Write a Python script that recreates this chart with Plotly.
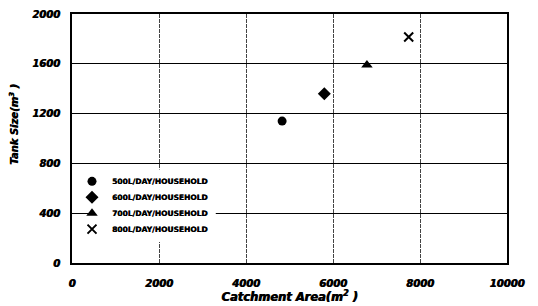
import plotly.graph_objects as go

series_names = ["500L/DAY/HOUSEHOLD", "600L/DAY/HOUSEHOLD", "700L/DAY/HOUSEHOLD", "800L/DAY/HOUSEHOLD"]
catchment_area = [4830, 5800, 6780, 7740]
tank_size = [1140, 1360, 1590, 1815]
symbols = ["circle", "diamond", "triangle-up", "x-thin"]
sizes = [9, 10, 10, 9]

x_ticks = [0, 2000, 4000, 6000, 8000, 10000]
y_ticks = [0, 400, 800, 1200, 1600, 2000]

FONT = "DejaVu Sans"
SHADOW = "0.7px 0px 0px black"

legend_ids = ["legend", "legend2", "legend3", "legend4"]
legend_y = [0.328, 0.264, 0.2, 0.136]

fig = go.Figure()
for name, xv, yv, sym, sz, lid in zip(series_names, catchment_area, tank_size, symbols, sizes, legend_ids):
    fig.add_trace(go.Scatter(
        x=[xv], y=[yv], mode="markers", name=name, legend=lid,
        marker=dict(symbol=sym, size=sz, color="black",
                    line=dict(color="black", width=2 if sym == "x-thin" else 0)),
    ))

tickfont = dict(family=FONT, size=10, color="black", weight="bold", style="italic", shadow=SHADOW)

legend_common = dict(
    xanchor="left", yanchor="middle",
    bgcolor="rgba(0,0,0,0)", borderwidth=0,
    font=dict(family=FONT, size=7.5, color="black", weight="bold", shadow="0.4px 0px 0px black"),
    itemwidth=30, tracegroupgap=0,
)
layout_legends = {}
for lid, ly in zip(legend_ids, legend_y):
    layout_legends[lid] = dict(x=0.0, y=ly, **legend_common)

# white legend background box masking the grid behind the legend
fig.add_shape(type="rect", xref="x", yref="y", x0=472, x1=3305, y0=168, y1=752,
              fillcolor="white", line=dict(width=0), layer="between")

# the page adds an 8px body margin, so the figure is 8px smaller than the window
fig.update_layout(
    width=530, height=298,
    margin=dict(l=64, r=31, t=6, b=43),
    paper_bgcolor="white", plot_bgcolor="white",
    showlegend=True,
    xaxis=dict(
        range=[0, 10000], tickvals=x_ticks, ticktext=[str(v) for v in x_ticks],
        showgrid=True, gridcolor="#444444", griddash="4px,1px", gridwidth=1,
        zeroline=False, showline=True, linecolor="black", linewidth=2, mirror=True,
        ticks="", tickfont=tickfont, ticklabelstandoff=10, automargin=False,
        title=dict(text="Catchment Area(m<sup>2</sup> )", standoff=2,
                   font=dict(family=FONT, size=11.5, color="black", weight="bold",
                             style="italic", shadow=SHADOW)),
    ),
    yaxis=dict(
        range=[0, 2000], tickvals=y_ticks, ticktext=[str(v) for v in y_ticks],
        showgrid=True, gridcolor="black", gridwidth=1,
        zeroline=False, showline=True, linecolor="black", linewidth=2, mirror=True,
        ticks="", tickfont=tickfont, ticklabelstandoff=8, automargin=False,
        title=dict(text="\u2800\u2003\u2003Tank Size(m<sup>3</sup> )", standoff=12,
                   font=dict(family=FONT, size=10, color="black", weight="bold",
                             style="italic", shadow=SHADOW)),
    ),
    **layout_legends,
)

fig.write_html("out.html")
